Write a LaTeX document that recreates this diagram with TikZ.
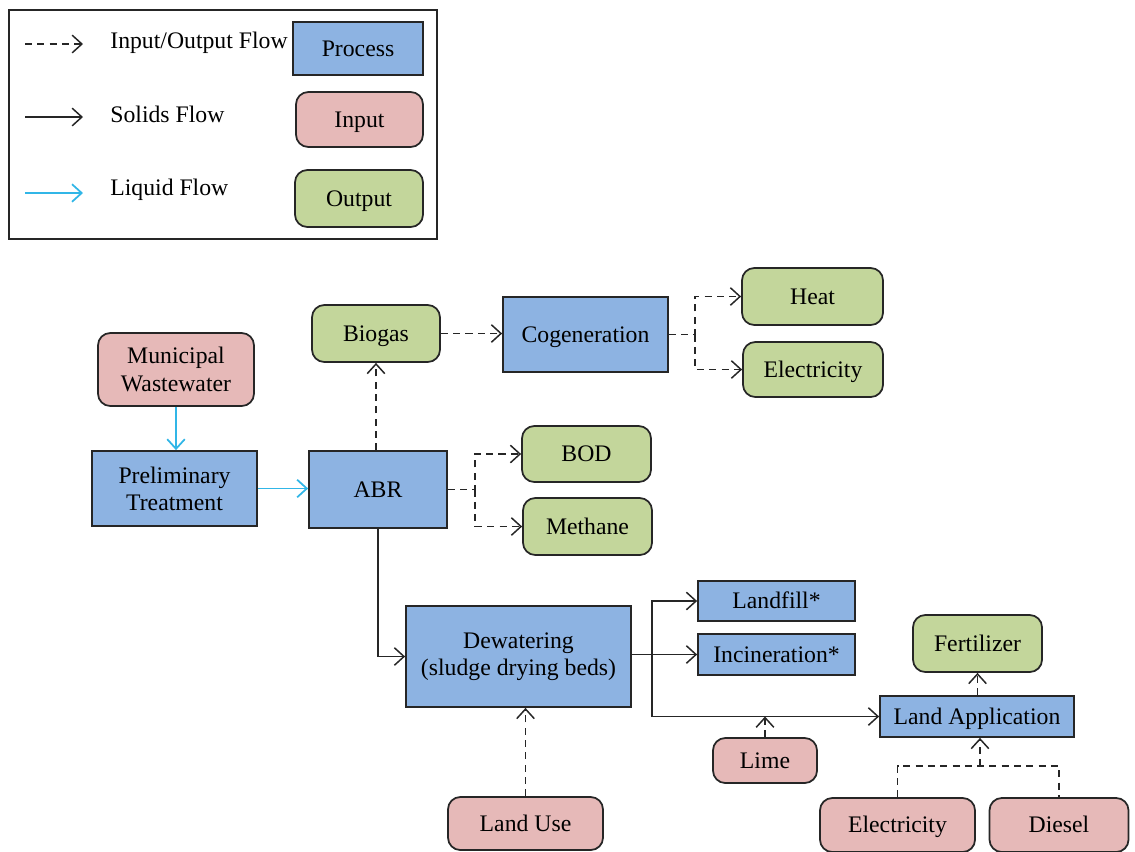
\documentclass[tikz,border=0pt]{standalone}
\usepackage{fontspec}
\setmainfont{Liberation Serif}
\usetikzlibrary{arrows.meta}
\definecolor{procblue}{RGB}{141,179,226}
\definecolor{inpink}{RGB}{230,185,184}
\definecolor{outgreen}{RGB}{195,214,155}
\definecolor{liqcyan}{RGB}{49,182,231}
\tikzset{
    box/.style={draw=black!85, line width=1pt, align=center, inner sep=1pt,
        font=\fontsize{13.5}{15.5}\selectfont},
    oneline/.style={execute at begin node=\rule[-0.22em]{0pt}{1.1em}},
    process/.style={box, fill=procblue},
    inbox/.style={box, fill=inpink, rounded corners=7pt},
    outbox/.style={box, fill=outgreen, rounded corners=7pt},
    flowtip/.style={-{Straight Barb[length=5.5pt,width=10pt]}},
    ioflow/.style={flowtip, black!85, line width=0.85pt, dash pattern=on 4pt off 3pt},
    solidflow/.style={flowtip, black!85, line width=0.85pt},
    liquidflow/.style={flowtip, liqcyan, line width=1pt},
    keytext/.style={anchor=base west, inner sep=0pt, font=\fontsize{13.5}{15.5}\selectfont},
}
\begin{document}
\begin{tikzpicture}
    \useasboundingbox (0,0) rectangle (22.7,-17.02);

    % legend
    \draw[black!85, line width=0.9pt] (0.18,-0.2) rectangle (8.74,-4.78);
    \coordinate (ioA) at (0.5,-0.88);
    \coordinate (ioB) at (1.66,-0.88);
    \coordinate (solA) at (0.5,-2.34);
    \coordinate (solB) at (1.66,-2.34);
    \coordinate (liqA) at (0.5,-3.86);
    \coordinate (liqB) at (1.66,-3.86);
    \draw[ioflow] (ioA) -- (ioB);
    \draw[solidflow] (solA) -- (solB);
    \draw[liquidflow] (liqA) -- (liqB);
    \node[keytext] (iokey) at (2.2,-0.96) {Input/Output Flow};
    \node[keytext] (solkey) at (2.2,-2.44) {Solids Flow};
    \node[keytext] (liqkey) at (2.2,-3.9) {Liquid Flow};
    \node[process, oneline, minimum width=2.6cm, minimum height=1.06cm] (keyproc) at (7.16,-0.97) {Process};
    \node[inbox, oneline, minimum width=2.54cm, minimum height=1.1cm] (keyin) at (7.19,-2.39) {Input};
    \node[outbox, oneline, minimum width=2.56cm, minimum height=1.14cm] (keyout) at (7.18,-3.97) {Output};

    % treatment chain
    \node[inbox, minimum width=3.12cm, minimum height=1.46cm] (mww) at (3.52,-7.39) {Municipal\\Wastewater};
    \node[process, minimum width=3.3cm, minimum height=1.5cm] (prelim) at (3.49,-9.77) {Preliminary\\Treatment};
    \node[process, oneline, minimum width=2.76cm, minimum height=1.54cm] (abr) at (7.56,-9.79) {ABR};
    \node[outbox, oneline, minimum width=2.56cm, minimum height=1.14cm] (biogas) at (7.52,-6.67) {Biogas};
    \node[process, oneline, minimum width=3.3cm, minimum height=1.5cm] (cogen) at (11.71,-6.69) {Cogeneration};
    \node[outbox, oneline, minimum width=2.82cm, minimum height=1.14cm] (heat) at (16.25,-5.93) {Heat};
    \node[outbox, oneline, minimum width=2.8cm, minimum height=1.1cm] (elecout) at (16.26,-7.39) {Electricity};
    \node[outbox, oneline, minimum width=2.58cm, minimum height=1.12cm] (bod) at (11.73,-9.08) {BOD};
    \node[outbox, oneline, minimum width=2.58cm, minimum height=1.14cm] (methane) at (11.75,-10.53) {Methane};

    % solids handling
    \node[process, minimum width=4.5cm, minimum height=2.02cm] (dewater) at (10.37,-13.13) {Dewatering\\(sludge drying beds)};
    \node[process, oneline, minimum width=3.14cm, minimum height=0.8cm] (landfill) at (15.53,-12.02) {Landfill*};
    \node[process, oneline, minimum width=3.14cm, minimum height=0.82cm] (incin) at (15.53,-13.09) {Incineration*};
    \node[inbox, oneline, minimum width=3.1cm, minimum height=1.06cm] (landuse) at (10.51,-16.47) {Land Use};
    \node[inbox, oneline, minimum width=2.08cm, minimum height=0.9cm] (lime) at (15.3,-15.21) {Lime};
    \node[outbox, oneline, minimum width=2.58cm, minimum height=1.14cm] (fert) at (19.55,-12.87) {Fertilizer};
    \node[process, oneline, minimum width=3.88cm, minimum height=0.82cm] (landapp) at (19.54,-14.33) {Land Application};
    \node[inbox, oneline, minimum width=3.1cm, minimum height=1.08cm] (elecin) at (17.95,-16.5) {Electricity};
    \node[inbox, oneline, minimum width=2.78cm, minimum height=1.08cm] (diesel) at (21.18,-16.5) {Diesel};

    \coordinate (cogjn) at (13.9,-6.69);
    \coordinate (abrjn) at (9.5,-9.79);
    \coordinate (dewjn) at (13.04,-13.09);
    \coordinate (bus) at (19.6,-15.32);

    \draw[liquidflow] (mww.south) -- (mww.south |- prelim.north);
    \draw[liquidflow] (prelim.east) -- (prelim.east -| abr.west);
    \draw[ioflow] (abr.north -| biogas) -- (biogas.south);
    \draw[ioflow] (biogas.east) -- (biogas.east -| cogen.west);
    \draw[ioflow] (cogen.east) -- (cogjn) |- (heat.west);
    \draw[ioflow] (cogjn) |- (elecout.west);
    \draw[ioflow] (abr.east) -- (abrjn) |- (bod.west);
    \draw[ioflow] (abrjn) |- (methane.west);
    \draw[solidflow] (abr.south) |- (dewater.west);
    \draw[solidflow] (dewater.east |- dewjn) -- (incin.west);
    \draw[solidflow] (dewjn) |- (landfill.west);
    \draw[solidflow] (dewjn) |- (landapp.west);
    \draw[ioflow] (landuse.north) -- (landuse.north |- dewater.south);
    \draw[ioflow] (lime.north) -- (lime.north |- landapp.west);
    \draw[ioflow] (landapp.north -| fert) -- (fert.south);
    \draw[ioflow, -] (elecin.north) -- (elecin.north |- bus) -- (diesel.north |- bus) -- (diesel.north);
    \draw[ioflow] (bus) -- (bus |- landapp.south);
\end{tikzpicture}
\end{document}
